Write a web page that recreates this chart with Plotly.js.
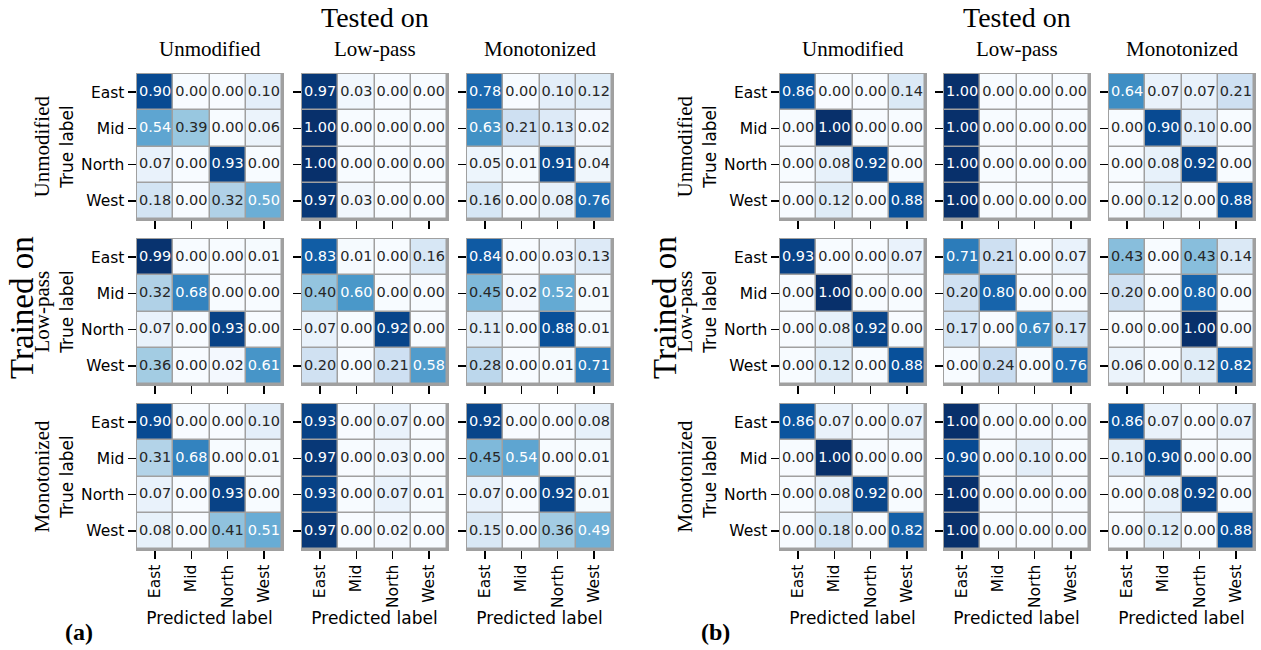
<!DOCTYPE html>
<html>
<head>
<meta charset="utf-8">
<script src="https://cdn.plot.ly/plotly-3.0.1.min.js"></script>
<style>html,body{margin:0;padding:0;background:#fff;}#chart{width:1261px;height:650px;}</style>
</head>
<body>
<div id="chart"></div>
<script>
// ---------- data ----------
const classLabels = ["East", "Mid", "North", "West"];
const conditionLabels = ["Unmodified", "Low-pass", "Monotonized"];

// Panel (a): rows = trained on, cols = tested on
const A_UU = [[0.90,0.00,0.00,0.10],[0.54,0.39,0.00,0.06],[0.07,0.00,0.93,0.00],[0.18,0.00,0.32,0.50]];
const A_UL = [[0.97,0.03,0.00,0.00],[1.00,0.00,0.00,0.00],[1.00,0.00,0.00,0.00],[0.97,0.03,0.00,0.00]];
const A_UM = [[0.78,0.00,0.10,0.12],[0.63,0.21,0.13,0.02],[0.05,0.01,0.91,0.04],[0.16,0.00,0.08,0.76]];
const A_LU = [[0.99,0.00,0.00,0.01],[0.32,0.68,0.00,0.00],[0.07,0.00,0.93,0.00],[0.36,0.00,0.02,0.61]];
const A_LL = [[0.83,0.01,0.00,0.16],[0.40,0.60,0.00,0.00],[0.07,0.00,0.92,0.00],[0.20,0.00,0.21,0.58]];
const A_LM = [[0.84,0.00,0.03,0.13],[0.45,0.02,0.52,0.01],[0.11,0.00,0.88,0.01],[0.28,0.00,0.01,0.71]];
const A_MU = [[0.90,0.00,0.00,0.10],[0.31,0.68,0.00,0.01],[0.07,0.00,0.93,0.00],[0.08,0.00,0.41,0.51]];
const A_ML = [[0.93,0.00,0.07,0.00],[0.97,0.00,0.03,0.00],[0.93,0.00,0.07,0.01],[0.97,0.00,0.02,0.00]];
const A_MM = [[0.92,0.00,0.00,0.08],[0.45,0.54,0.00,0.01],[0.07,0.00,0.92,0.01],[0.15,0.00,0.36,0.49]];

// Panel (b)
const B_UU = [[0.86,0.00,0.00,0.14],[0.00,1.00,0.00,0.00],[0.00,0.08,0.92,0.00],[0.00,0.12,0.00,0.88]];
const B_UL = [[1.00,0.00,0.00,0.00],[1.00,0.00,0.00,0.00],[1.00,0.00,0.00,0.00],[1.00,0.00,0.00,0.00]];
const B_UM = [[0.64,0.07,0.07,0.21],[0.00,0.90,0.10,0.00],[0.00,0.08,0.92,0.00],[0.00,0.12,0.00,0.88]];
const B_LU = [[0.93,0.00,0.00,0.07],[0.00,1.00,0.00,0.00],[0.00,0.08,0.92,0.00],[0.00,0.12,0.00,0.88]];
const B_LL = [[0.71,0.21,0.00,0.07],[0.20,0.80,0.00,0.00],[0.17,0.00,0.67,0.17],[0.00,0.24,0.00,0.76]];
const B_LM = [[0.43,0.00,0.43,0.14],[0.20,0.00,0.80,0.00],[0.00,0.00,1.00,0.00],[0.06,0.00,0.12,0.82]];
const B_MU = [[0.86,0.07,0.00,0.07],[0.00,1.00,0.00,0.00],[0.00,0.08,0.92,0.00],[0.00,0.18,0.00,0.82]];
const B_ML = [[1.00,0.00,0.00,0.00],[0.90,0.00,0.10,0.00],[1.00,0.00,0.00,0.00],[1.00,0.00,0.00,0.00]];
const B_MM = [[0.86,0.07,0.00,0.07],[0.10,0.90,0.00,0.00],[0.00,0.08,0.92,0.00],[0.00,0.12,0.00,0.88]];

const panelA = [[A_UU, A_UL, A_UM],[A_LU, A_LL, A_LM],[A_MU, A_ML, A_MM]];
const panelB = [[B_UU, B_UL, B_UM],[B_LU, B_LL, B_LM],[B_MU, B_ML, B_MM]];

// ---------- layout geometry (pixels) ----------
const W = 1261, H = 650;
const SIZE = 145;
const panels = [
  {mats: panelA, xs: [137, 302, 467], tag: "(a)", tagX: 79},
  {mats: panelB, xs: [780, 944, 1109], tag: "(b)", tagX: 715}
];
const rowTops = [74, 239, 404];
const px = v => v / W;
const py = v => 1 - v / H;

const blues = [[0,'#f7fbff'],[0.125,'#deebf7'],[0.25,'#c6dbef'],[0.375,'#9ecae1'],[0.5,'#6baed6'],[0.625,'#4292c6'],[0.75,'#2171b5'],[0.875,'#08519c'],[1,'#08306b']];
const SANS = "DejaVu Sans, sans-serif";
const SERIF = "Liberation Serif, Times New Roman, serif";

const data = [];
const layout = {
  width: W, height: H,
  margin: {l: 0, r: 0, t: 0, b: 0},
  paper_bgcolor: '#ffffff',
  plot_bgcolor: '#a0a0a0',
  showlegend: false,
  hovermode: false,
  annotations: []
};

let k = 0;
panels.forEach((p, pi) => {
  for (let r = 0; r < 3; r++) {
    for (let c = 0; c < 3; c++) {
      k++;
      const xa = 'x' + (k === 1 ? '' : k), ya = 'y' + (k === 1 ? '' : k);
      const xkey = 'xaxis' + (k === 1 ? '' : k), ykey = 'yaxis' + (k === 1 ? '' : k);
      const z = p.mats[r][c];
      data.push({
        type: 'heatmap', x: classLabels, y: classLabels, z: z,
        zmin: 0, zmax: 1, colorscale: blues, showscale: false,
        xgap: 1.5, ygap: 1.5, xaxis: xa, yaxis: ya, hoverinfo: 'skip'
      });
      const tx = [], ty = [], tt = [], tc = [];
      z.forEach((row, i) => row.forEach((v, j) => {
        tx.push(classLabels[j]); ty.push(classLabels[i]);
        tt.push(v.toFixed(2)); tc.push(v > 0.47 ? '#ffffff' : '#262626');
      }));
      data.push({
        type: 'scatter', mode: 'text', x: tx, y: ty, text: tt,
        textfont: {family: SANS, size: 14.5, color: tc},
        textposition: 'middle center', xaxis: xa, yaxis: ya, hoverinfo: 'skip', cliponaxis: false
      });
      const x0 = p.xs[c], y0 = rowTops[r];
      const common = {
        type: 'category', showline: true, mirror: true, linecolor: '#a0a0a0', linewidth: 1.5,
        ticks: 'outside', ticklen: 8, tickwidth: 1.5, tickcolor: '#000000',
        showgrid: false, zeroline: false, fixedrange: true,
        tickfont: {family: SANS, size: 15.5, color: '#000000'},
        categoryorder: 'array', categoryarray: classLabels
      };
      layout[xkey] = Object.assign({}, common, {
        domain: [px(x0), px(x0 + SIZE)], anchor: ya,
        range: [-0.5, 3.5],
        showticklabels: r === 2, tickangle: -90,
        title: r === 2 ? {text: 'Predicted label', font: {family: SANS, size: 17, color: '#000'}, standoff: 3} : {text: ''}
      });
      layout[ykey] = Object.assign({}, common, {
        domain: [py(y0 + SIZE), py(y0)], anchor: xa,
        range: [3.5, -0.5],
        showticklabels: c === 0,
        title: c === 0 ? {text: 'True label', font: {family: SANS, size: 17, color: '#000'}, standoff: 3} : {text: ''}
      });
    }
  }
  // column titles
  p.xs.forEach((x0, c) => {
    layout.annotations.push({
      text: conditionLabels[c], xref: 'paper', yref: 'paper',
      x: px(x0 + SIZE / 2), y: py(49), xanchor: 'center', yanchor: 'middle',
      showarrow: false, font: {family: SERIF, size: 21, color: '#000'}
    });
  });
  // "Tested on"
  layout.annotations.push({
    text: 'Tested on', xref: 'paper', yref: 'paper',
    x: px(p.xs[1] + SIZE / 2), y: 1, xanchor: 'center', yanchor: 'top',
    showarrow: false, font: {family: SERIF, size: 28, color: '#000'}
  });
  // row titles
  rowTops.forEach((y0, r) => {
    layout.annotations.push({
      text: conditionLabels[r], xref: 'paper', yref: 'paper',
      x: px(p.xs[0] - 96), y: py(y0 + SIZE / 2), xanchor: 'center', yanchor: 'middle',
      textangle: -90, showarrow: false, font: {family: SERIF, size: 21, color: '#000'}
    });
  });
  // "Trained on"
  layout.annotations.push({
    text: 'Trained on', xref: 'paper', yref: 'paper',
    x: px(p.xs[0] - 115), y: py(308), xanchor: 'center', yanchor: 'middle',
    textangle: -90, showarrow: false, font: {family: SERIF, size: 33, color: '#000'}
  });
  // panel tag
  layout.annotations.push({
    text: '<b>' + p.tag + '</b>', xref: 'paper', yref: 'paper',
    x: px(p.tagX), y: py(632), xanchor: 'center', yanchor: 'middle',
    showarrow: false, font: {family: SERIF, size: 24, color: '#000'}
  });
});

Plotly.newPlot('chart', data, layout, {displayModeBar: false, staticPlot: true});
</script>
</body>
</html>
